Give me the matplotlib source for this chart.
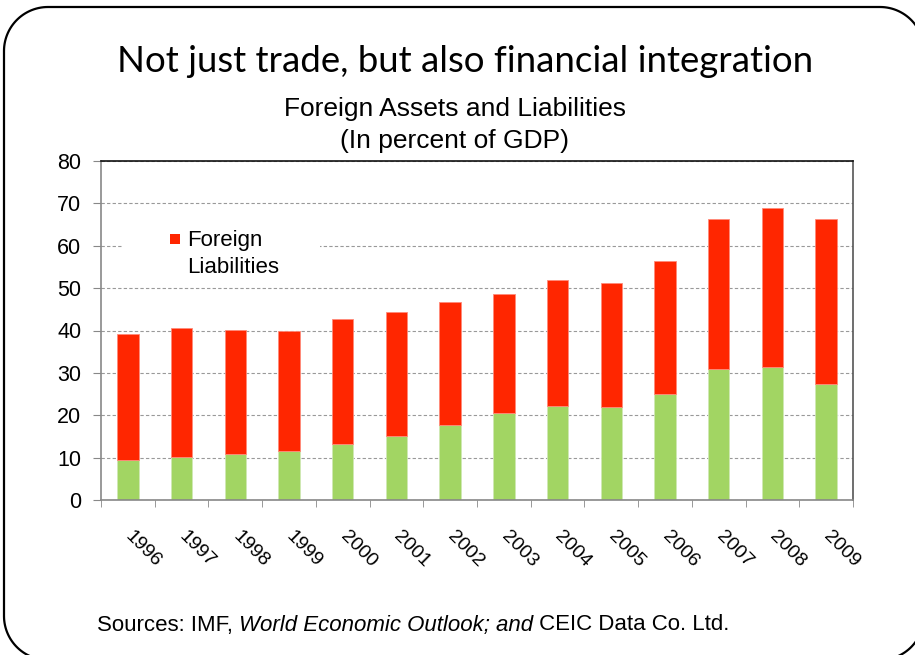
import matplotlib
matplotlib.use("Agg")
import matplotlib.pyplot as plt
import numpy as np
from matplotlib.lines import Line2D
from matplotlib.patches import Rectangle

# data, percent of GDP
years = ["1996", "1997", "1998", "1999", "2000", "2001", "2002",
         "2003", "2004", "2005", "2006", "2007", "2008", "2009"]
assets = [9.4, 10.1, 10.8, 11.6, 13.2, 15.1, 17.7,
          20.5, 22.2, 22.0, 25.1, 31.0, 31.4, 27.4]
liabilities = [29.8, 30.5, 29.3, 28.3, 29.5, 29.3, 29.0,
               28.0, 29.7, 29.3, 31.4, 35.3, 37.4, 38.8]
y_ticks = [0, 10, 20, 30, 40, 50, 60, 70, 80]

red = "#FF2600"
green = "#A2D563"
sans = "Liberation Sans"

W, H = 915, 655
fig = plt.figure(figsize=(W / 100, H / 100), dpi=100)


def px(x, y):
    # pixel position measured from top-left -> figure fraction
    return x / W, 1 - y / H


# slide frame with rounded corners (pixel coords, y down)
left, top, right, bottom, r = 4, 7, 924, 660, 44
t = np.linspace(0, np.pi / 2, 30)
xs, ys = [], []
for cx, cy, a0 in [(right - r, top + r, 0), (left + r, top + r, np.pi / 2),
                   (left + r, bottom - r, np.pi), (right - r, bottom - r, 1.5 * np.pi)]:
    ang = a0 + t
    xs.extend(cx + r * np.cos(ang))
    ys.extend(cy - r * np.sin(ang))
xs.append(xs[0])
ys.append(ys[0])
fx, fy = px(np.array(xs), np.array(ys))
fig.lines.append(Line2D(fx, fy, transform=fig.transFigure, color="black",
                        linewidth=1.6, solid_joinstyle="round"))

fig.text(*px(465, 62), "Not just trade, but also financial integration",
         ha="center", va="center", fontsize=26.4, family="Lato")
fig.text(*px(455, 109), "Foreign Assets and Liabilities",
         ha="center", va="center", fontsize=19, family=sans)
fig.text(*px(455, 141), "(In percent of GDP)",
         ha="center", va="center", fontsize=19, family=sans)

ax = fig.add_axes([101 / W, 1 - 500 / H, 752 / W, 339 / H])
x = np.arange(len(years))
ax.bar(x, assets, width=0.40, color=green, edgecolor="#CFE8B4", linewidth=0.6, zorder=2)
ax.bar(x, liabilities, width=0.40, bottom=assets, color=red,
       edgecolor="#FF8A7A", linewidth=0.6, zorder=2)

ax.set_xlim(-0.5, len(years) - 0.5)
ax.set_ylim(0, 80)
ax.set_yticks(y_ticks)
ax.set_yticklabels([str(v) for v in y_ticks], fontsize=15.5, family=sans)
ax.yaxis.grid(True, color="#999999", linestyle=(0, (3, 2)), linewidth=0.8)
ax.set_axisbelow(True)

ax.set_xticks(x)
ax.set_xticklabels(years, rotation=-45, ha="left", va="center",
                   fontsize=14, family=sans, rotation_mode="anchor")
ax.tick_params(axis="x", which="major", length=0, pad=24)
ax.set_xticks(np.arange(-0.5, len(years)), minor=True)
ax.tick_params(axis="x", which="minor", length=5, color="#888888", direction="out")
ax.tick_params(axis="y", length=5.8, color="#888888", pad=8.5)

ax.spines["left"].set_color("#888888")
ax.spines["bottom"].set_color("#888888")
ax.spines["top"].set_color("#111111")
ax.spines["right"].set_color("#555555")
for s in ax.spines.values():
    s.set_linewidth(1.2)

# legend: white patch over the gridline, red key and label
fig.patches.append(Rectangle(px(123, 256), 197 / W, 20 / H, transform=fig.transFigure,
                             facecolor="white", edgecolor="none", zorder=3))
fig.patches.append(Rectangle(px(170, 244), 10 / W, 10 / H, transform=fig.transFigure,
                             facecolor=red, edgecolor="none", zorder=4))
fig.text(*px(187, 230), "Foreign\nLiabilities", ha="left", va="top",
         fontsize=16, family=sans, linespacing=1.4, zorder=5)

# sources line: regular / italic / regular
fig.canvas.draw()
renderer = fig.canvas.get_renderer()
parts = [("Sources: IMF, ", "normal"), ("World Economic Outlook; and", "italic"),
         (" CEIC Data Co. Ltd.", "normal")]
xp = 97
for txt, style in parts:
    tx = fig.text(xp / W, 1 - 625 / H, txt, ha="left", va="center",
                  fontsize=16, family=sans, style=style)
    xp = tx.get_window_extent(renderer).x1

fig.savefig("out.png", dpi=100)
